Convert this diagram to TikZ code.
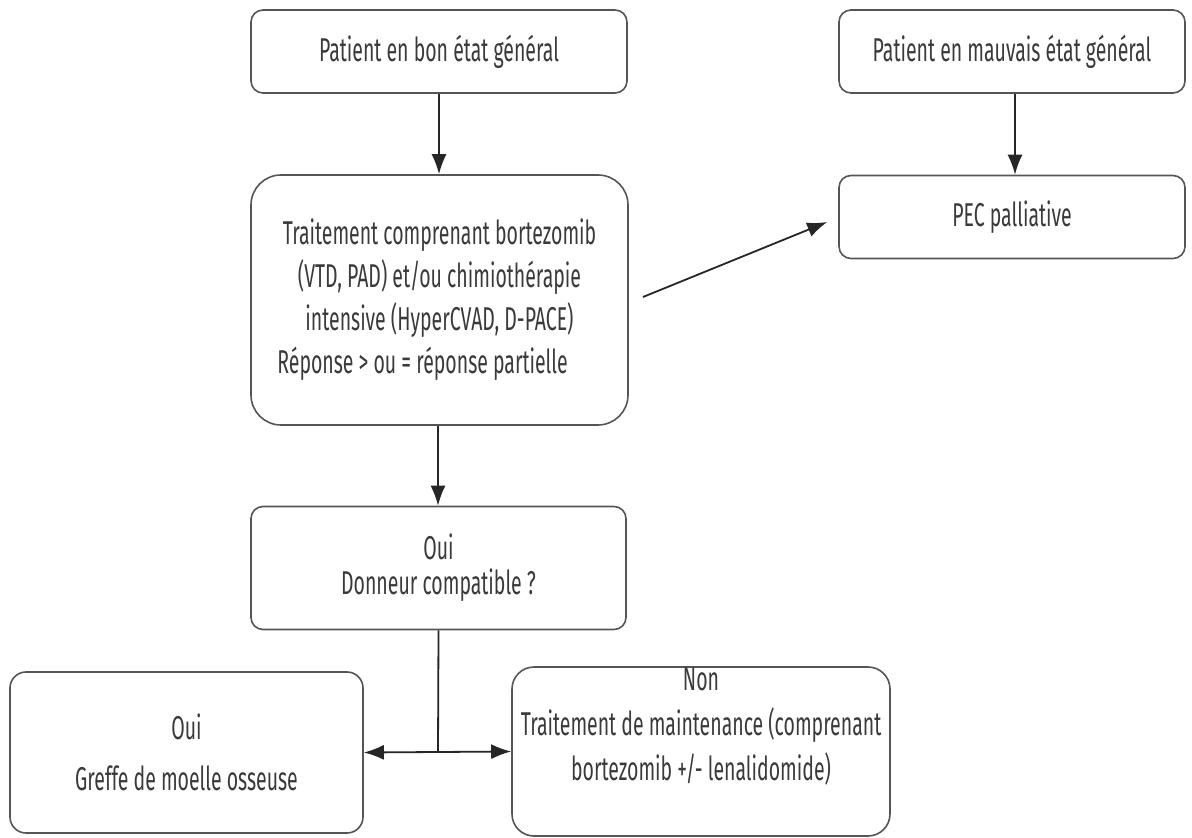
\documentclass[tikz,border=0pt]{standalone}
\usepackage{fontspec}
\setmainfont{Fira Sans}[FakeStretch=0.59]
\usetikzlibrary{arrows.meta}
\definecolor{boxgray}{HTML}{555555}
\definecolor{linecol}{HTML}{262626}
\definecolor{textcol}{HTML}{3A3A3A}
\begin{document}
\begin{tikzpicture}[x=0.5pt,y=-0.5pt,
  box/.style={draw=boxgray, line width=0.8pt, rounded corners=6pt, inner sep=0pt,
    align=center, text=textcol, font=\fontsize{16.5}{21.5}\selectfont},
  txt/.style={inner sep=0pt, align=center, text=textcol, font=\fontsize{16.5}{22.5}\selectfont},
  conn/.style={draw=linecol, line width=0.9pt, -{Latex[length=10pt,width=7.5pt]}},
  dconn/.style={draw=linecol, line width=0.9pt, {Latex[length=10pt,width=7.5pt]}-{Latex[length=10pt,width=7.5pt]}},
  plain/.style={draw=linecol, line width=0.9pt},
]
\useasboundingbox[fill=white] (0,0) rectangle (1192,838);

\node[box, minimum width=188pt, minimum height=41.5pt] (b1) at (439,51.5)
  {Patient en bon état général};
\node[box, minimum width=188.5pt, minimum height=125pt, rounded corners=15pt] (b2) at (439.5,300)
  {Traitement comprenant bortezomib\\(VTD, PAD) et/ou chimiothérapie\\intensive (HyperCVAD, D-PACE)\\Réponse > ou = réponse partielle\hspace*{17pt}};
\node[box, minimum width=173pt, minimum height=41.5pt] (b3) at (1012,51.5)
  {Patient en mauvais état général};
\node[box, minimum width=173pt, minimum height=41.5pt] (b4) at (1012,217)
  {PEC palliative};
\node[box, minimum width=187.5pt, minimum height=61.5pt, font=\fontsize{16.5}{17.5}\selectfont] (b5) at (438.5,568)
  {Oui\\Donneur compatible ?};
\node[box, minimum width=176.5pt, minimum height=80.5pt, rounded corners=8pt, font=\fontsize{16.5}{25.5}\selectfont] (b6) at (186.5,752.5)
  {Oui\\Greffe de moelle osseuse};
\node[box, minimum width=189pt, minimum height=84.5pt, rounded corners=11pt] (b7) at (701,751.5) {};
\node[txt] (t7) at (701,727) {Non\\Traitement de maintenance (comprenant\\bortezomib +/- lenalidomide)};

\coordinate (d0) at (643,297);
\coordinate (j) at (438,752);

\draw[conn] (b1.south) -- (b1.south |- b2.north);
\draw[conn] ([xshift=1.5pt]b3.south) -- ([xshift=1.5pt]b3.south |- b4.north);
\draw[conn] (d0) -- ([xshift=-5.5pt,yshift=-2.5pt]b4.west);
\draw[conn] ([xshift=-0.75pt]b2.south) -- ([xshift=-0.75pt]b2.south |- b5.north);
\draw[plain] (b5.south) -- (j);
\draw[dconn] (b6.east) -- (b7.west);
\end{tikzpicture}
\end{document}
